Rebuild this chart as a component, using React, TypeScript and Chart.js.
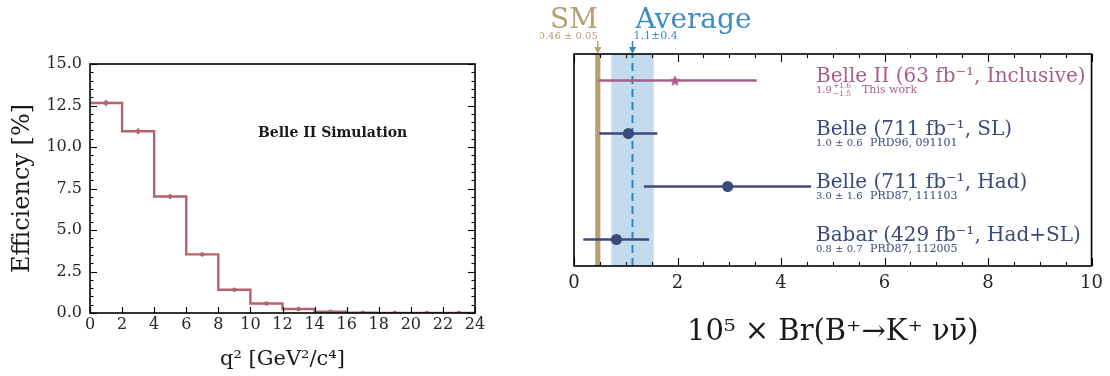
import React, { useEffect, useRef } from "react";
import { Chart, registerables } from "chart.js";

Chart.register(...registerables);

const SERIF = "'DejaVu Serif', serif";
const TICK_COLOR = "#262626";

// ---------------- Left panel: efficiency vs q^2 ----------------
const q2BinEdges = [0, 2, 4, 6, 8, 10, 12, 14, 16, 18, 20, 22, 24];
const efficiencyPct = [12.65, 10.95, 7.02, 3.53, 1.4, 0.57, 0.24, 0.08, 0.02, 0.01, 0.006, 0.003];
const efficiencyErrPct = [0.2, 0.18, 0.15, 0.12, 0.08, 0.05, 0.03, 0.02, 0.01, 0.01, 0.005, 0.003];
const q2TickValues = [0, 2, 4, 6, 8, 10, 12, 14, 16, 18, 20, 22, 24];
const effTickValues = [0, 2.5, 5, 7.5, 10, 12.5, 15];
const leftTitleX = "q² [GeV²/c⁴]";
const leftTitleY = "Efficiency [%]";
const simulationLabel = "Belle II Simulation";

// ---------------- Right panel: branching fraction comparison ----------------
const experimentNames = [
  "Belle II (63 fb⁻¹, Inclusive)",
  "Belle (711 fb⁻¹, SL)",
  "Belle (711 fb⁻¹, Had)",
  "Babar (429 fb⁻¹, Had+SL)",
];
const brCentral = [1.95, 1.05, 2.97, 0.82];
const brLow = [0.47, 0.49, 1.35, 0.18];
const brHigh = [3.53, 1.61, 4.58, 1.45];
const brValueText = ["1.9", "1.0 ± 0.6", "3.0 ± 1.6", "0.8 ± 0.7"];
const brAsymUp = ["+1.6", "", "", ""];
const brAsymDown = ["−1.5", "", "", ""];
const brReference = ["This work", "PRD96, 091101", "PRD87, 111103", "PRD87, 112005"];
const rowPositions = [3.5, 2.5, 1.5, 0.5];
const smBr = 0.46;
const smBrErr = 0.05;
const smText = "0.46 ± 0.05";
const avgBr = 1.13;
const avgBrErr = 0.41;
const avgText = "1.1±0.4";
const brTickValues = [0, 2, 4, 6, 8, 10];
const rightTitleX = "10⁵ × Br(B⁺→K⁺ νν̄)";

const HIST_COLOR = "#b4636f";
const MAUVE = "#a65f8b";
const NAVY = "#3c4a7b";
const TAN = "#b3a171";
const AVG_BLUE = "#2b87c4";
const AVG_BAND = "#c3dbec";

const rowColor = (i: number) => (i === 0 ? MAUVE : NAVY);

type Side = "top" | "bottom" | "left" | "right";
type TickSpec = { axis: string; sides: Side[]; major: number; minor?: number; majorLen: number; minorLen: number };

function drawInnerTicks(chart: any, specs: TickSpec[]) {
  const { ctx, chartArea: a } = chart;
  ctx.save();
  ctx.strokeStyle = "#000";
  ctx.lineWidth = 1.1;
  for (const s of specs) {
    const sc = chart.scales[s.axis];
    const step = s.minor ?? s.major;
    const n = Math.round((sc.max - sc.min) / step);
    for (let k = 0; k <= n; k++) {
      const v = sc.min + k * step;
      const r = v / s.major;
      const isMajor = Math.abs(r - Math.round(r)) < 1e-6;
      const len = isMajor ? s.majorLen : s.minorLen;
      const p = Math.round(sc.getPixelForValue(v)) + 0.5;
      for (const side of s.sides) {
        ctx.beginPath();
        if (side === "bottom") { ctx.moveTo(p, a.bottom); ctx.lineTo(p, a.bottom - len); }
        if (side === "top") { ctx.moveTo(p, a.top); ctx.lineTo(p, a.top + len); }
        if (side === "left") { ctx.moveTo(a.left, p); ctx.lineTo(a.left + len, p); }
        if (side === "right") { ctx.moveTo(a.right, p); ctx.lineTo(a.right - len, p); }
        ctx.stroke();
      }
    }
  }
  ctx.lineWidth = 1.6;
  ctx.strokeRect(a.left, a.top, a.right - a.left, a.bottom - a.top);
  ctx.restore();
}

function makeStar(color: string, r: number) {
  const c = document.createElement("canvas");
  const size = Math.ceil(r * 2 + 2);
  c.width = size;
  c.height = size;
  const g = c.getContext("2d")!;
  g.beginPath();
  for (let i = 0; i < 10; i++) {
    const rad = i % 2 === 0 ? r : r * 0.45;
    const ang = -Math.PI / 2 + (i * Math.PI) / 5;
    g.lineTo(size / 2 + rad * Math.cos(ang), size / 2 + 0.6 + rad * Math.sin(ang));
  }
  g.closePath();
  g.fillStyle = color;
  g.fill();
  return c;
}

export default function App() {
  const leftRef = useRef<HTMLCanvasElement | null>(null);
  const rightRef = useRef<HTMLCanvasElement | null>(null);

  useEffect(() => {
    const binCenters = efficiencyPct.map((_, i) => (q2BinEdges[i] + q2BinEdges[i + 1]) / 2);
    const histPoints = q2BinEdges.map((x, i) => ({ x, y: efficiencyPct[Math.min(i, efficiencyPct.length - 1)] }));

    const leftPlugin = {
      id: "leftDecor",
      afterDatasetsDraw(chart: any) {
        const { ctx } = chart;
        const xs = chart.scales.x;
        const ys = chart.scales.y;
        ctx.save();
        ctx.strokeStyle = HIST_COLOR;
        ctx.lineWidth = 1.6;
        binCenters.forEach((c, i) => {
          const px = xs.getPixelForValue(c);
          ctx.beginPath();
          ctx.moveTo(px, ys.getPixelForValue(efficiencyPct[i] - efficiencyErrPct[i]));
          ctx.lineTo(px, ys.getPixelForValue(efficiencyPct[i] + efficiencyErrPct[i]));
          ctx.stroke();
        });
        ctx.restore();
        drawInnerTicks(chart, [
          { axis: "y", sides: ["left", "right"], major: 2.5, minor: 0.5, majorLen: 7, minorLen: 3.5 },
          { axis: "x", sides: ["bottom"], major: 2, majorLen: 6, minorLen: 6 },
        ]);
        const a = chart.chartArea;
        ctx.save();
        ctx.font = `bold 14px ${SERIF}`;
        ctx.fillStyle = "#1a1a1a";
        ctx.textAlign = "left";
        ctx.textBaseline = "alphabetic";
        ctx.fillText(simulationLabel, a.left + 168, a.top + 73);
        ctx.restore();
      },
    };

    const left = new Chart(leftRef.current!, {
      type: "scatter",
      data: {
        datasets: [
          {
            type: "scatter",
            data: binCenters.map((x, i) => ({ x, y: efficiencyPct[i] })),
            pointRadius: 2.2,
            pointBackgroundColor: HIST_COLOR,
            pointBorderWidth: 0,
          },
          {
            type: "line",
            data: histPoints,
            stepped: "before",
            borderColor: HIST_COLOR,
            borderWidth: 2.4,
            pointRadius: 0,
            fill: false,
          } as any,
        ],
      },
      options: {
        responsive: false,
        animation: false,
        events: [],
        layout: { padding: { top: 64, right: 65, left: 0, bottom: 0 } },
        plugins: { legend: { display: false }, tooltip: { enabled: false } },
        scales: {
          x: {
            type: "linear",
            min: 0,
            max: 24,
            afterBuildTicks: (s: any) => { s.ticks = q2TickValues.map((value) => ({ value })); },
            afterFit: (s: any) => { s.height = 63; },
            grid: { display: false, drawTicks: false },
            border: { display: false },
            ticks: { font: { family: SERIF, size: 16 }, color: TICK_COLOR, padding: 2, maxRotation: 0, autoSkip: false, callback: (v: any) => String(v) },
            title: { display: true, text: leftTitleX, font: { family: SERIF, size: 21 }, color: "#1a1a1a", padding: { top: 0, bottom: 4 } },
          },
          y: {
            type: "linear",
            min: 0,
            max: 15,
            afterBuildTicks: (s: any) => { s.ticks = effTickValues.map((value) => ({ value })); },
            afterFit: (s: any) => { s.width = 90; },
            grid: { display: false, drawTicks: false },
            border: { display: false },
            ticks: { font: { family: SERIF, size: 16 }, color: TICK_COLOR, padding: 8, callback: (v: any) => Number(v).toFixed(1) },
            title: { display: true, text: leftTitleY, font: { family: SERIF, size: 24 }, color: "#1a1a1a", padding: { top: 8, bottom: 0 } },
          },
        },
      },
      plugins: [leftPlugin],
    });

    const star = makeStar(MAUVE, 6);

    const rightPlugin = {
      id: "rightDecor",
      beforeDatasetsDraw(chart: any) {
        const { ctx, chartArea: a } = chart;
        const xs = chart.scales.x;
        ctx.save();
        const ax0 = xs.getPixelForValue(avgBr - avgBrErr);
        const ax1 = xs.getPixelForValue(avgBr + avgBrErr);
        ctx.fillStyle = AVG_BAND;
        ctx.fillRect(ax0, a.top, ax1 - ax0, a.bottom - a.top);
        const sx0 = xs.getPixelForValue(smBr - smBrErr);
        const sx1 = xs.getPixelForValue(smBr + smBrErr);
        ctx.fillStyle = TAN;
        ctx.fillRect(sx0, a.top, sx1 - sx0, a.bottom - a.top);
        ctx.restore();
      },
      afterDatasetsDraw(chart: any) {
        drawInnerTicks(chart, [
          { axis: "x", sides: ["top", "bottom"], major: 2, minor: 0.5, majorLen: 8, minorLen: 4 },
        ]);
      },
      afterDraw(chart: any) {
        const { ctx, chartArea: a } = chart;
        const xs = chart.scales.x;
        const ys = chart.scales.y;
        ctx.save();
        // header arrows
        const arrow = (x: number, color: string) => {
          ctx.strokeStyle = color;
          ctx.fillStyle = color;
          ctx.lineWidth = 1.5;
          ctx.beginPath();
          ctx.moveTo(x, 41);
          ctx.lineTo(x, a.top - 5);
          ctx.stroke();
          ctx.beginPath();
          ctx.moveTo(x - 3.5, a.top - 7);
          ctx.lineTo(x + 3.5, a.top - 7);
          ctx.lineTo(x, a.top);
          ctx.closePath();
          ctx.fill();
        };
        const smX = xs.getPixelForValue(smBr);
        const avX = xs.getPixelForValue(avgBr);
        arrow(smX, TAN);
        arrow(avX, AVG_BLUE);
        ctx.textBaseline = "alphabetic";
        ctx.fillStyle = TAN;
        ctx.textAlign = "right";
        ctx.font = `28px ${SERIF}`;
        ctx.fillText("SM", smX, 28);
        ctx.font = `10px ${SERIF}`;
        ctx.fillText(smText, smX, 39);
        ctx.fillStyle = "#3a8dc5";
        ctx.textAlign = "left";
        ctx.font = `28px ${SERIF}`;
        ctx.fillText("Average", avX + 3, 28);
        ctx.font = `11px ${SERIF}`;
        ctx.fillText(avgText, avX + 1, 39);

        // row labels
        const labelX = a.left + 242;
        experimentNames.forEach((name, i) => {
          const y = ys.getPixelForValue(rowPositions[i]);
          ctx.fillStyle = rowColor(i);
          ctx.textAlign = "left";
          ctx.font = `20px ${SERIF}`;
          ctx.fillText(name, labelX, y + 1.5);
          ctx.font = `10px ${SERIF}`;
          const vy = y + 12.5;
          ctx.fillText(brValueText[i], labelX, vy);
          let noteX = labelX + 54;
          if (brAsymUp[i]) {
            const w = ctx.measureText(brValueText[i]).width;
            ctx.font = `7.5px ${SERIF}`;
            ctx.fillText(brAsymUp[i], labelX + w + 1, vy - 5);
            ctx.fillText(brAsymDown[i], labelX + w + 1, vy + 2.5);
            noteX = labelX + 46;
          }
          ctx.font = `11px ${SERIF}`;
          ctx.fillText(brReference[i], noteX, vy);
        });
        ctx.restore();
      },
    };

    const rightDatasets: any[] = [
      {
        type: "scatter",
        data: [{ x: brCentral[0], y: rowPositions[0] }],
        pointStyle: star,
        pointRadius: 6,
      },
      {
        type: "scatter",
        data: brCentral.slice(1).map((x, k) => ({ x, y: rowPositions[k + 1] })),
        pointStyle: "circle",
        pointRadius: 5.5,
        pointBackgroundColor: NAVY,
        pointBorderWidth: 0,
      },
      ...experimentNames.map((_, i) => ({
        type: "line",
        data: [
          { x: brLow[i], y: rowPositions[i] },
          { x: brHigh[i], y: rowPositions[i] },
        ],
        borderColor: rowColor(i),
        borderWidth: 2.5,
        pointRadius: 0,
        fill: false,
      })),
      {
        type: "line",
        data: [
          { x: avgBr, y: 0 },
          { x: avgBr, y: 4 },
        ],
        borderColor: AVG_BLUE,
        borderWidth: 2,
        borderDash: [8, 5],
        pointRadius: 0,
        fill: false,
      },
    ];

    const right = new Chart(rightRef.current!, {
      type: "scatter",
      data: { datasets: rightDatasets },
      options: {
        responsive: false,
        animation: false,
        events: [],
        layout: { padding: { top: 54, right: 18, left: 34, bottom: 0 } },
        plugins: { legend: { display: false }, tooltip: { enabled: false } },
        scales: {
          x: {
            type: "linear",
            min: 0,
            max: 10,
            afterBuildTicks: (s: any) => { s.ticks = brTickValues.map((value) => ({ value })); },
            afterFit: (s: any) => { s.height = 110; },
            grid: { display: false, drawTicks: false },
            border: { display: false },
            ticks: { font: { family: SERIF, size: 18 }, color: TICK_COLOR, padding: 7, maxRotation: 0, autoSkip: false, callback: (v: any) => String(v) },
            title: { display: true, text: rightTitleX, font: { family: SERIF, size: 29 }, color: "#1a1a1a", padding: { top: 0, bottom: 26 } },
          },
          y: {
            type: "linear",
            min: 0,
            max: 4,
            display: false,
          },
        },
      },
      plugins: [rightPlugin],
    });

    return () => {
      left.destroy();
      right.destroy();
    };
  }, []);

  return (
    <div style={{ position: "fixed", left: 0, top: 0, width: 1110, height: 376, background: "#fff" }}>
      <canvas ref={leftRef} width={540} height={376} style={{ position: "absolute", left: 0, top: 0, width: 540, height: 376 }} />
      <canvas ref={rightRef} width={570} height={376} style={{ position: "absolute", left: 540, top: 0, width: 570, height: 376 }} />
    </div>
  );
}
